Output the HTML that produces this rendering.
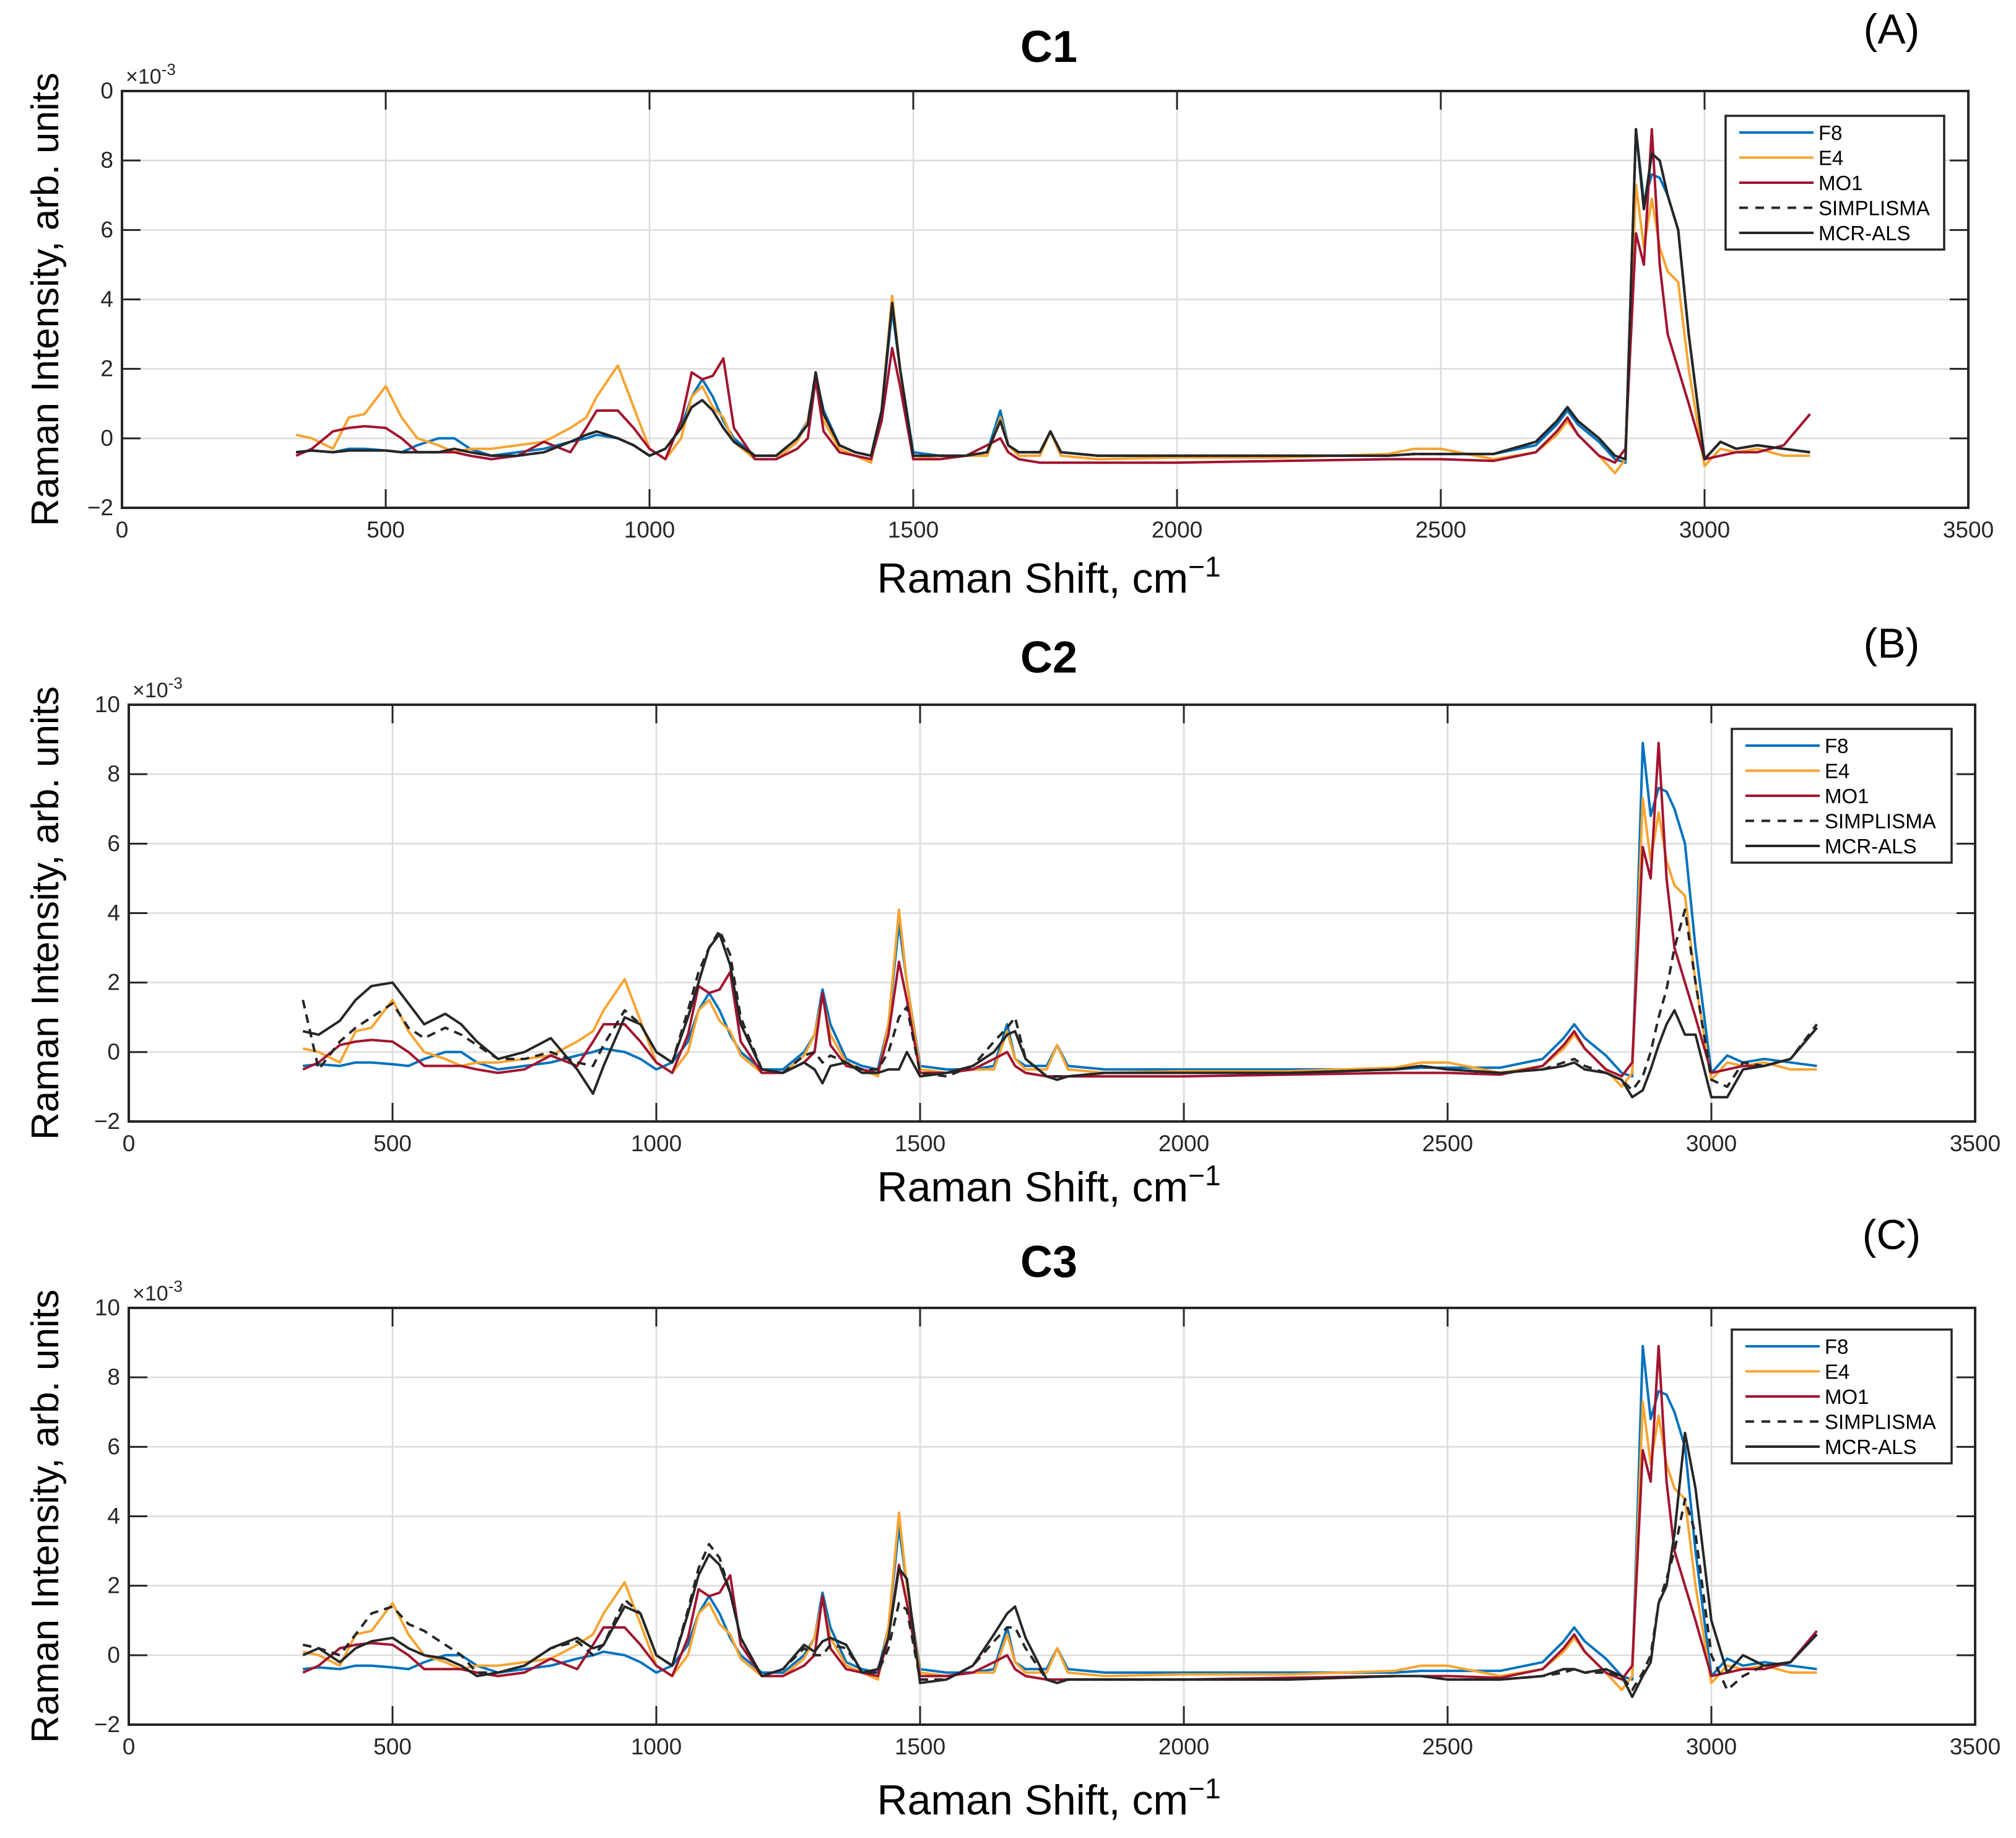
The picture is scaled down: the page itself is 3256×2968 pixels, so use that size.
<!DOCTYPE html>
<html><head><meta charset="utf-8">
<style>
html,body{margin:0;padding:0;background:#fff;}
svg{display:block;font-family:"Liberation Sans",Arial,sans-serif;}
</style></head>
<body>
<svg id="chart" width="3256" height="2968" viewBox="0 0 3256 2968" xmlns="http://www.w3.org/2000/svg"></svg>
<script>
const xs = [330,360,400,430,460,500,530,560,600,630,660,700,750,800,850,880,900,940,970,1000,1030,1060,1080,1100,1120,1140,1160,1200,1240,1280,1300,1315,1330,1360,1390,1420,1440,1460,1475,1500,1550,1600,1640,1665,1680,1700,1740,1760,1780,1850,2000,2200,2400,2450,2500,2600,2680,2720,2740,2760,2800,2830,2850,2870,2885,2900,2915,2930,2950,2970,3000,3030,3060,3100,3150,3200];
const f8 = [-0.4,-0.35,-0.4,-0.3,-0.3,-0.35,-0.4,-0.2,0.0,0.0,-0.3,-0.5,-0.4,-0.3,-0.1,0.0,0.1,0.0,-0.2,-0.5,-0.3,0.3,1.2,1.7,1.2,0.5,0.0,-0.5,-0.5,0.0,0.5,1.8,0.8,-0.2,-0.4,-0.5,0.8,3.7,2.0,-0.4,-0.5,-0.5,-0.4,0.8,-0.2,-0.4,-0.4,0.2,-0.4,-0.5,-0.5,-0.5,-0.5,-0.45,-0.45,-0.45,-0.2,0.4,0.8,0.4,-0.1,-0.6,-0.7,8.9,6.8,7.6,7.5,7.0,6.0,3.0,-0.6,-0.1,-0.3,-0.2,-0.3,-0.4];
const e4 = [0.1,0.0,-0.3,0.6,0.7,1.5,0.6,0.0,-0.2,-0.4,-0.3,-0.3,-0.2,-0.1,0.3,0.6,1.2,2.1,0.9,-0.3,-0.6,0.0,1.2,1.5,0.9,0.6,-0.1,-0.6,-0.6,-0.1,0.5,1.6,0.5,-0.3,-0.5,-0.7,0.8,4.1,2.0,-0.5,-0.6,-0.5,-0.5,0.6,-0.2,-0.5,-0.5,0.2,-0.5,-0.6,-0.55,-0.55,-0.45,-0.3,-0.3,-0.6,-0.4,0.1,0.5,0.1,-0.5,-1.0,-0.6,7.3,5.5,6.9,5.5,4.8,4.5,2.0,-0.8,-0.3,-0.4,-0.3,-0.5,-0.5];
const mo1 = [-0.5,-0.3,0.2,0.3,0.35,0.3,0.0,-0.4,-0.4,-0.4,-0.5,-0.6,-0.5,-0.1,-0.4,0.3,0.8,0.8,0.3,-0.3,-0.6,0.5,1.9,1.7,1.8,2.3,0.3,-0.6,-0.6,-0.3,0.0,1.7,0.2,-0.4,-0.5,-0.6,0.5,2.6,1.5,-0.6,-0.6,-0.5,-0.2,0.0,-0.4,-0.6,-0.7,-0.7,-0.7,-0.7,-0.7,-0.65,-0.6,-0.6,-0.6,-0.65,-0.4,0.2,0.6,0.1,-0.5,-0.7,-0.3,5.9,5.0,8.9,5.0,3.0,2.0,1.0,-0.6,-0.5,-0.4,-0.4,-0.2,0.7];
const mcrC1 = [-0.4,-0.35,-0.4,-0.35,-0.35,-0.35,-0.4,-0.4,-0.4,-0.3,-0.4,-0.5,-0.5,-0.4,-0.1,0.1,0.2,0.0,-0.2,-0.5,-0.3,0.3,0.9,1.1,0.8,0.3,-0.1,-0.5,-0.5,0.0,0.4,1.9,0.7,-0.2,-0.4,-0.5,0.8,3.9,2.0,-0.5,-0.5,-0.5,-0.4,0.5,-0.2,-0.4,-0.4,0.2,-0.4,-0.5,-0.5,-0.5,-0.5,-0.45,-0.45,-0.45,-0.1,0.5,0.9,0.5,0.0,-0.5,-0.6,8.9,6.6,8.2,8.0,7.0,6.0,3.0,-0.6,-0.1,-0.3,-0.2,-0.3,-0.4];
const simC1 = mcrC1;
const mcrC2 = [0.6,0.5,0.9,1.5,1.9,2.0,1.4,0.8,1.1,0.8,0.3,-0.2,0.0,0.4,-0.5,-1.2,-0.4,1.0,0.8,0.0,-0.3,1.0,2.0,3.0,3.4,2.5,0.8,-0.5,-0.6,-0.3,-0.5,-0.9,-0.4,-0.3,-0.6,-0.6,-0.5,-0.5,0.0,-0.7,-0.6,-0.4,0.0,0.5,0.6,-0.2,-0.7,-0.8,-0.7,-0.6,-0.6,-0.6,-0.5,-0.4,-0.5,-0.6,-0.5,-0.4,-0.3,-0.5,-0.6,-0.8,-1.3,-1.1,-0.5,0.2,0.8,1.2,0.5,0.5,-1.3,-1.3,-0.5,-0.4,-0.2,0.7];
const simC2 = [1.5,-0.5,0.3,0.7,1.0,1.4,0.7,0.4,0.7,0.5,0.2,-0.2,-0.2,0.0,-0.3,-0.4,0.2,1.2,0.8,0.0,-0.3,1.2,2.3,3.0,3.5,2.8,1.0,-0.5,-0.6,-0.1,0.0,-0.3,-0.1,-0.3,-0.5,-0.5,0.0,1.0,1.3,-0.6,-0.7,-0.4,0.3,0.7,1.0,-0.2,-0.7,-0.7,-0.7,-0.6,-0.6,-0.6,-0.5,-0.4,-0.5,-0.6,-0.5,-0.3,-0.2,-0.4,-0.6,-0.8,-1.1,-0.7,0.0,1.0,1.8,3.0,4.1,2.0,-0.8,-1.0,-0.3,-0.4,-0.2,0.8];
const mcrC3 = [0.0,0.2,-0.2,0.2,0.4,0.5,0.2,0.0,-0.1,-0.3,-0.6,-0.5,-0.3,0.2,0.5,0.2,0.3,1.4,1.2,0.0,-0.3,1.2,2.3,2.9,2.6,1.8,0.5,-0.6,-0.4,0.3,0.1,0.4,0.5,0.3,-0.5,-0.4,0.5,2.5,2.2,-0.8,-0.7,-0.3,0.6,1.2,1.4,0.5,-0.7,-0.8,-0.7,-0.7,-0.7,-0.7,-0.6,-0.6,-0.7,-0.7,-0.6,-0.4,-0.4,-0.5,-0.4,-0.6,-1.2,-0.6,-0.2,1.5,2.0,3.5,6.4,4.8,1.0,-0.5,0.0,-0.3,-0.2,0.6];
const simC3 = [0.3,0.2,0.0,0.6,1.2,1.4,0.9,0.7,0.3,0.0,-0.5,-0.5,-0.3,0.2,0.4,0.0,0.3,1.6,1.2,0.0,-0.3,1.3,2.5,3.2,2.8,1.8,0.5,-0.6,-0.4,0.2,0.0,0.0,0.3,0.2,-0.5,-0.5,0.2,1.5,1.3,-0.7,-0.7,-0.3,0.4,0.8,0.8,0.2,-0.7,-0.8,-0.7,-0.7,-0.7,-0.7,-0.6,-0.6,-0.7,-0.7,-0.6,-0.5,-0.4,-0.5,-0.5,-0.6,-1.0,-0.5,0.0,1.5,2.2,3.0,4.5,3.5,0.0,-1.0,-0.6,-0.3,-0.2,0.6];
const xTicks = [0,500,1000,1500,2000,2500,3000,3500];
const yTicks = [-2,0,2,4,6,8,10];
const legendNames = ["F8","E4","MO1","SIMPLISMA","MCR-ALS"];

const NS = "http://www.w3.org/2000/svg";
const svg = document.getElementById("chart");
function el(tag, attrs, parent, text){
  const e = document.createElementNS(NS, tag);
  for (const k in attrs) e.setAttribute(k, attrs[k]);
  if (text !== undefined) e.textContent = text;
  (parent || svg).appendChild(e);
  return e;
}
const COL = {f8:"#0072BD", e4:"#EDB120", mo1:"#A2142F", blk:"#262626"};

const panels = [
  {id:"c1", L:197, R:3179, T:147, B:820, title:"C1", tag:"(A)", tagY:70, titleY:100, xlabY:957, topLbl:"0", leg:[2787,187,353,216],
   series:[[f8,COL.f8,null],[e4,"#F7A431",null],[mo1,COL.mo1,null],[simC1,COL.blk,"14,10"],[mcrC1,COL.blk,null]]},
  {id:"c2", L:208, R:3190, T:1138, B:1811, title:"C2", tag:"(B)", tagY:1062, titleY:1086, xlabY:1940, topLbl:"10", leg:[2797,1177,355,216],
   series:[[f8,COL.f8,null],[e4,"#F7A431",null],[mo1,COL.mo1,null],[simC2,COL.blk,"14,10"],[mcrC2,COL.blk,null]]},
  {id:"c3", L:208, R:3190, T:2112, B:2785, title:"C3", tag:"(C)", tagY:2017, titleY:2062, xlabY:2930, topLbl:"10", leg:[2797,2147,355,216],
   series:[[f8,COL.f8,null],[e4,"#F7A431",null],[mo1,COL.mo1,null],[simC3,COL.blk,"14,10"],[mcrC3,COL.blk,null]]}
];
const serNames = ["f8","e4","mo1","simplisma","mcr-als"];

panels.forEach(p=>{
  const g = el("g",{});
  
  
  const sx = v => p.L + (v - 0) / 3500 * (p.R - p.L);
  const sy = v => p.B - (v + 2) / 12 * (p.B - p.T);
  xTicks.slice(1,-1).forEach(t=>{
    const l = el("line",{x1:sx(t),x2:sx(t),y1:p.T,y2:p.B,stroke:"#dcdcdc","stroke-width":2.5},g);
    
    
  });
  yTicks.slice(1,-1).forEach(t=>{
    const l = el("line",{x1:p.L,x2:p.R,y1:sy(t),y2:sy(t),stroke:"#dcdcdc","stroke-width":2.5},g);
    
    
  });
  p.series.forEach((s,i)=>{
    const d = xs.map((x,j)=>(j?"L":"M")+sx(x).toFixed(1)+","+sy(s[0][j]).toFixed(1)).join(" ");
    const a = {d:d,fill:"none",stroke:s[1],"stroke-width":4,"stroke-linejoin":"round"};
    if (s[2]) a["stroke-dasharray"] = s[2];
    const path = el("path",a,g);
    
    
  });
  const box = el("rect",{x:p.L,y:p.T,width:p.R-p.L,height:p.B-p.T,fill:"none",stroke:"#262626","stroke-width":4},g);
  
  
  xTicks.forEach(t=>{
    el("line",{x1:sx(t),x2:sx(t),y1:p.B,y2:p.B-30,stroke:"#262626","stroke-width":3},g);
    el("line",{x1:sx(t),x2:sx(t),y1:p.T,y2:p.T+30,stroke:"#262626","stroke-width":3},g);
    const tx = el("text",{x:sx(t),y:p.B+48,"font-size":37,"text-anchor":"middle",fill:"#262626"},g,String(t));
    
    
  });
  yTicks.forEach(t=>{
    el("line",{x1:p.L,x2:p.L+30,y1:sy(t),y2:sy(t),stroke:"#262626","stroke-width":3},g);
    el("line",{x1:p.R,x2:p.R-30,y1:sy(t),y2:sy(t),stroke:"#262626","stroke-width":3},g);
    const lbl = (t===10) ? p.topLbl : (t<0 ? "\u2212"+Math.abs(t) : String(t));
    const ty = el("text",{x:p.L-14,y:sy(t)+12,"font-size":37,"text-anchor":"end",fill:"#262626"},g,lbl);
    
    
  });
  const ex = el("text",{x:p.L+6,y:p.T-12,"font-size":34,fill:"#262626"},g);
  
  
  el("tspan",{},ex,"\u00d710");
  el("tspan",{dy:-14,"font-size":26},ex,"-3");
  const ti = el("text",{x:1694,y:p.titleY,"font-size":72,"font-weight":"bold","text-anchor":"middle",fill:"#000"},g,p.title);
  
  
  const tg = el("text",{x:3055,y:p.tagY,"font-size":68,"text-anchor":"middle",fill:"#000"},g,p.tag);
  
  
  const xl = el("text",{x:1694,y:p.xlabY,"font-size":68,"text-anchor":"middle",fill:"#000"},g);
  
  
  el("tspan",{},xl,"Raman Shift, cm");
  el("tspan",{dy:-26,"font-size":46},xl,"\u22121");
  const cy = (p.T+p.B)/2;
  const yl = el("text",{x:0,y:0,"font-size":62,"text-anchor":"middle",fill:"#000",transform:`translate(94,${cy}) rotate(-90)`},g,"Raman Intensity, arb. units");
  
  
  const [lx,ly,lw,lh] = p.leg;
  const lg = el("g",{},g);
  
  
  el("rect",{x:lx,y:ly,width:lw,height:lh,fill:"#fff",stroke:"#262626","stroke-width":3.5},lg);
  p.series.forEach((s,i)=>{
    const yy = ly + 27 + i*40.5;
    const a = {x1:lx+22,x2:lx+142,y1:yy,y2:yy,stroke:s[1],"stroke-width":4};
    if (s[2]) a["stroke-dasharray"]="14,12";
    el("line",a,lg);
    const t = el("text",{x:lx+150,y:yy+12,"font-size":33,fill:"#000"},lg,legendNames[i]);
    
    
  });
});
</script>
</body></html>
